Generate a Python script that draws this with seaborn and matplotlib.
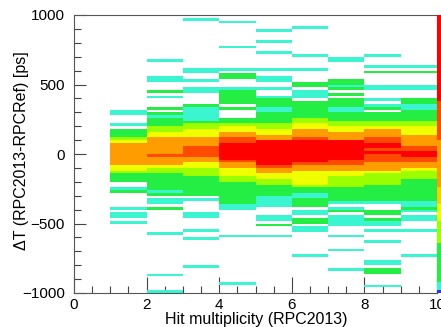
import numpy as np
import matplotlib
matplotlib.use("Agg")
import matplotlib.pyplot as plt
from matplotlib.colors import ListedColormap
import seaborn as sns

# ---------------- data ----------------
X_MIN, X_MAX = 0, 10
Y_MIN, Y_MAX = -1000, 1000
N_YBINS = 100                 # 20 ps bins
FIRST_FILLED_COLUMN = 1       # first filled bin is x in [1, 2)

# colour level of every 20 ps cell, from +1000 (top) down to -1000 (bottom)
# 0 = empty, 1 = cyan, 2 = green, 3 = yellow-green, 4 = yellow, 5 = orange, 6 = red-orange, 7 = red
LEVELS_X1 = "0000000000 0000000000 0000000000 0000110001 0222345555 5555443222 0012000001 0110100000 0000000000 0000000000"
LEVELS_X2 = "0000000000 0000001000 0011000201 0002021222 3344555555 6555433222 2221201102 0000000010 0000000000 0001000001"
LEVELS_X3 = "0100000000 0000000001 1001001100 0021111123 3444555666 6554433322 2222201000 0110000100 1000000000 1000000000"
LEVELS_X4 = "0010000000 0100000001 0220001222 2202000223 4455667777 7765544433 2222222211 0000000001 0000000000 0000001000"
LEVELS_X5 = "0000010001 0001000001 0011001001 2221122223 3445577777 7777655443 3222211110 0011020001 0000000000 0000000000"
LEVELS_X6 = "0000100000 0000100001 0000220111 0222222334 4555677777 7776554444 4322112220 1102201100 0000001000 0000000000"
LEVELS_X7 = "0000000000 0000011000 0002212020 2221122233 4455577777 7766554433 3322222101 2011110001 0000100000 0100000000"
LEVELS_X8 = "0000000000 0000100010 2000011000 1012022233 4555667767 6665554333 3222222100 2202110100 0100000011 0220000100"
LEVELS_X9 = "0000000000 0000000010 2000011000 2211222233 4445555667 7665543332 2222222112 1011000100 0000001000 0000000000"
COLUMNS = [LEVELS_X1, LEVELS_X2, LEVELS_X3, LEVELS_X4, LEVELS_X5,
           LEVELS_X6, LEVELS_X7, LEVELS_X8, LEVELS_X9]

# approximate bin content for each colour level
LEVEL_COUNTS = [0, 1, 5, 11, 15, 23, 31, 43]
Z_MAX = 50

X_TICKS = [0, 2, 4, 6, 8, 10]
Y_TICKS = [1000, 500, 0, -500, -1000]
X_LABEL = "Hit multiplicity (RPC2013)"
Y_LABEL = "ΔT (RPC2013-RPCRef) [ps]"

# ---------------- build the 2D histogram ----------------
counts = np.zeros((N_YBINS, X_MAX - X_MIN))
for j, col in enumerate(COLUMNS):
    lv = [int(c) for c in col.replace(" ", "")]
    assert len(lv) == N_YBINS
    counts[:, FIRST_FILLED_COLUMN + j] = [LEVEL_COUNTS[v] for v in lv]

# ROOT-like banded palette (fraction of z range -> colour)
bands = [(0.00, "#2b30ff"), (0.01, "#3af5cf"), (0.04, "#24ee44"),
         (0.18, "#9cff00"), (0.26, "#f0ff00"), (0.32, "#ffcc00"),
         (0.38, "#ff9c00"), (0.55, "#ff4a00"), (0.69, "#ff0000")]
ncol = 200
cols = []
for i in range(ncol):
    f = (i + 0.5) / ncol
    c = bands[0][1]
    for start, colr in bands:
        if f >= start:
            c = colr
    cols.append(c)
cmap = ListedColormap(cols)

# ---------------- plot ----------------
sns.set_theme(style="white")
plt.rcParams["font.family"] = ["Liberation Sans", "DejaVu Sans"]

W, H = 441, 327
fig = plt.figure(figsize=(W / 100, H / 100), dpi=100)
fig.patch.set_facecolor("white")
ax = fig.add_axes([74 / W, 34 / H, 363 / W, 278 / H])
cax = fig.add_axes([437 / W, 34 / H, 14 / W, 278 / H])

sns.heatmap(counts, mask=counts <= 0, cmap=cmap, vmin=0, vmax=Z_MAX,
            ax=ax, cbar=True, cbar_ax=cax, xticklabels=False,
            yticklabels=False, linewidths=0, antialiased=False)

cbar = ax.collections[0].colorbar
cbar.outline.set_linewidth(0)
cbar.set_ticks([])
cax.tick_params(length=0)

def ypos(v):
    return (Y_MAX - v) / (Y_MAX - Y_MIN) * N_YBINS

ax.set_xlim(X_MIN, X_MAX)
ax.set_ylim(N_YBINS, 0)
ax.set_xticks(X_TICKS, labels=[str(t) for t in X_TICKS])
ax.set_xticks(np.arange(X_MIN, X_MAX + 0.01, 0.5), minor=True)
ax.set_yticks([ypos(v) for v in Y_TICKS],
              labels=[str(v).replace("-", "\u2212") for v in Y_TICKS])
ax.set_yticks([ypos(v) for v in range(Y_MIN, Y_MAX + 1, 100)], minor=True)

tc = "#444444"
ax.tick_params(axis="x", which="major", direction="in", length=11.5, width=0.8,
               color=tc, pad=3.6, labelsize=11, bottom=True, top=False,
               labelcolor="black")
ax.tick_params(axis="x", which="minor", direction="in", length=5, width=0.8,
               color=tc, bottom=True, top=False)
ax.tick_params(axis="y", which="major", direction="in", length=8.6, width=0.8,
               color=tc, pad=6.5, labelsize=11, left=True, right=False,
               labelcolor="black")
ax.tick_params(axis="y", which="minor", direction="in", length=5, width=0.8,
               color=tc, left=True, right=False)
for s in ax.spines.values():
    s.set_visible(True)
    s.set_color("#555555")
    s.set_linewidth(0.8)

ax.set_xlabel(X_LABEL, fontsize=11.5, color="black")
ax.xaxis.set_label_coords(0.501, -0.112)
ax.xaxis.label.set_va("baseline")
ax.set_ylabel(Y_LABEL, fontsize=11.5, color="black")
ax.yaxis.set_label_coords(-0.1446, 0.511)
ax.yaxis.label.set_va("center")

fig.savefig("out.png", dpi=100)
